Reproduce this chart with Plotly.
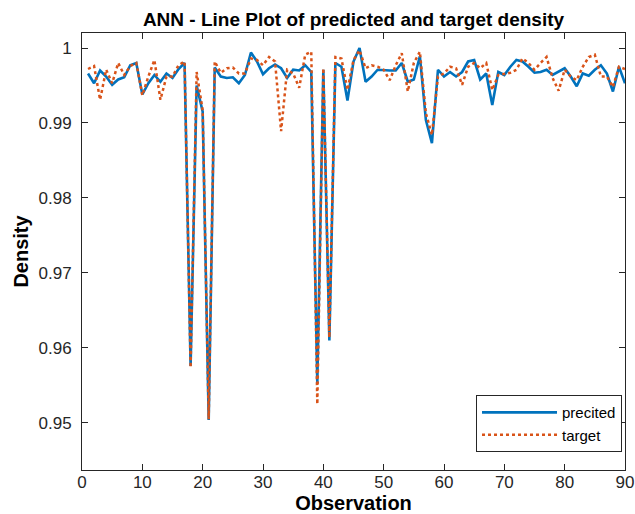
import plotly.graph_objects as go

observation = list(range(1, 91))

predicted = [
    0.9966, 0.9953, 0.9970, 0.9962, 0.9951, 0.9958, 0.9961, 0.9977, 0.9980, 0.9938,
    0.9953, 0.9964, 0.9955, 0.9966, 0.9960, 0.9972, 0.9980, 0.9576, 0.9950, 0.9915,
    0.9504, 0.9974, 0.9962, 0.9960, 0.9961, 0.9953, 0.9964, 0.9994, 0.9982, 0.9965,
    0.9973, 0.9978, 0.9973, 0.9960, 0.9971, 0.9970, 0.9977, 0.9968, 0.9553, 0.9971,
    0.9610, 0.9980, 0.9975, 0.9930, 0.9982, 1.0000, 0.9955, 0.9962, 0.9971, 0.9970,
    0.9970, 0.9970, 0.9980, 0.9955, 0.9958, 0.9989, 0.9904, 0.9873, 0.9971, 0.9962,
    0.9968, 0.9962, 0.9968, 0.9982, 0.9984, 0.9958, 0.9966, 0.9924, 0.9968, 0.9964,
    0.9975, 0.9984, 0.9982, 0.9975, 0.9967, 0.9968, 0.9971, 0.9964, 0.9968, 0.9973,
    0.9962, 0.9949, 0.9966, 0.9963, 0.9971, 0.9977, 0.9966, 0.9942, 0.9975, 0.9953,
]

target = [
    0.9972, 0.9976, 0.9931, 0.9971, 0.9953, 0.9980, 0.9964, 0.9976, 0.9980, 0.9937,
    0.9962, 0.9984, 0.9931, 0.9962, 0.9962, 0.9977, 0.9982, 0.9574, 0.9968, 0.9917,
    0.9505, 0.9982, 0.9967, 0.9973, 0.9974, 0.9966, 0.9966, 0.9986, 0.9984, 0.9977,
    0.9988, 0.9982, 0.9889, 0.9971, 0.9966, 0.9947, 0.9991, 0.9995, 0.9525, 0.9973,
    0.9614, 0.9988, 0.9986, 0.9944, 0.9984, 0.9997, 0.9973, 0.9977, 0.9975, 0.9971,
    0.9957, 0.9977, 0.9993, 0.9942, 0.9980, 0.9995, 0.9913, 0.9884, 0.9962, 0.9966,
    0.9975, 0.9973, 0.9951, 0.9975, 0.9980, 0.9973, 0.9980, 0.9944, 0.9964, 0.9966,
    0.9967, 0.9971, 0.9986, 0.9980, 0.9971, 0.9980, 0.9988, 0.9960, 0.9943, 0.9971,
    0.9962, 0.9957, 0.9975, 0.9988, 0.9991, 0.9962, 0.9962, 0.9948, 0.9975, 0.9972,
]

x_ticks = [0, 10, 20, 30, 40, 50, 60, 70, 80, 90]
y_ticks = [0.95, 0.96, 0.97, 0.98, 0.99, 1.0]
y_tick_labels = ["0.95", "0.96", "0.97", "0.98", "0.99", "1"]

font_family = "Liberation Sans, Arial, Helvetica, sans-serif"

fig = go.Figure()
fig.add_trace(go.Scatter(
    x=observation, y=predicted, mode="lines", name="precited",
    line=dict(color="#0072BD", width=2.6),
))
fig.add_trace(go.Scatter(
    x=observation, y=target, mode="lines", name="target",
    line=dict(color="#D95319", width=2.5, dash="dot"),
))

axis_common = dict(
    showline=True, linecolor="#262626", linewidth=1, mirror="allticks",
    ticks="inside", ticklen=6, tickcolor="#262626", showgrid=False, zeroline=False,
    tickfont=dict(family=font_family, size=17, color="#262626"),
    automargin=False,
)

fig.update_layout(
    width=635, height=514,
    margin=dict(l=82, r=10, t=33, b=44),
    paper_bgcolor="white", plot_bgcolor="white",
    font=dict(family=font_family, color="#262626"),
    title=dict(
        text="<b>ANN - Line Plot of predicted and target density</b>",
        x=0.5, xanchor="center", xref="paper", y=0.962, yanchor="middle",
        font=dict(family=font_family, size=19, color="black"),
    ),
    xaxis=dict(
        range=[0, 90], tickvals=x_ticks,
        ticklabelstandoff=-3,
        title=dict(text="<b>Observation</b>", standoff=5,
                   font=dict(family=font_family, size=20, color="black")),
        **axis_common,
    ),
    yaxis=dict(
        range=[0.94373, 1.002], tickvals=y_ticks, ticktext=y_tick_labels,
        ticklabelstandoff=6,
        title=dict(text="<b>Density</b>", standoff=4,
                   font=dict(family=font_family, size=20, color="black")),
        **axis_common,
    ),
    legend=dict(
        x=0.9945, y=0.041, xanchor="right", yanchor="bottom",
        bgcolor="white", bordercolor="#262626", borderwidth=1,
        font=dict(family=font_family, size=15, color="black"),
        tracegroupgap=0, itemwidth=75,
    ),
    showlegend=True,
)

fig.write_html("out.html", config={"displayModeBar": False},
               post_script="document.body.style.margin='0';")
